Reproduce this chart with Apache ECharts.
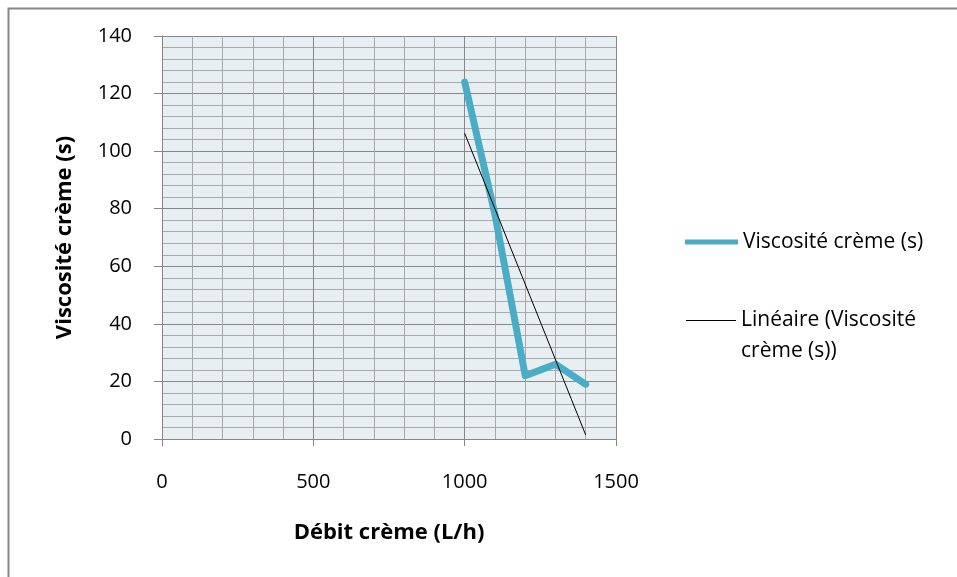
<!DOCTYPE html>
<html>
<head>
<meta charset="utf-8">
<script src="https://cdn.jsdelivr.net/npm/echarts@6/dist/echarts.min.js"></script>
<style>
html,body{margin:0;padding:0;background:#fff;}
#c{width:957px;height:577px;}
</style>
</head>
<body>
<div id="c"></div>
<script>
// Data
const flowRates = [1000, 1100, 1200, 1300, 1400];      // Débit crème (L/h)
const viscosity = [124, 78, 22, 26, 19];                // Viscosité crème (s)
const xTicks = [0, 500, 1000, 1500];
const yTicks = [0, 20, 40, 60, 80, 100, 120, 140];
const seriesName = 'Viscosité crème (s)';
const trendName = 'Linéaire (Viscosité crème (s))';
const xTitle = 'Débit crème (L/h)';
const yTitle = 'Viscosité crème (s)';

// Least-squares linear trend computed from the data
const n = flowRates.length;
const mx = flowRates.reduce((a, b) => a + b, 0) / n;
const my = viscosity.reduce((a, b) => a + b, 0) / n;
let sxy = 0, sxx = 0;
for (let i = 0; i < n; i++) { sxy += (flowRates[i] - mx) * (viscosity[i] - my); sxx += (flowRates[i] - mx) ** 2; }
const slope = sxy / sxx, icpt = my - slope * mx;
const xMin = Math.min(...flowRates), xMax = Math.max(...flowRates);
const trendData = [[xMin, slope * xMin + icpt], [xMax, slope * xMax + icpt]];

const FONT = '"Open Sans", sans-serif';
const chart = echarts.init(document.getElementById('c'), null, {renderer: 'canvas'});
chart.setOption({
  backgroundColor: '#ffffff',
  animation: false,
  textStyle: {fontFamily: FONT},
  graphic: [{
    type: 'rect', left: 6, top: 6, silent: true,
    shape: {x: 0, y: 0, width: 1200, height: 900},
    style: {fill: 'none', stroke: '#878787', lineWidth: 2}
  }],
  grid: {left: 162, top: 36, right: 341, bottom: 138, show: true, backgroundColor: '#e8eff2', borderWidth: 0},
  xAxis: {
    type: 'value', min: xTicks[0], max: xTicks[xTicks.length - 1], interval: 500,
    name: xTitle, nameLocation: 'middle', nameGap: 83,
    nameTextStyle: {fontFamily: FONT, fontWeight: 'bold', fontSize: 22, color: '#000'},
    axisLine: {show: true, onZero: false, lineStyle: {color: '#878787', width: 1}},
    axisTick: {show: true, length: 7, lineStyle: {color: '#878787'}},
    axisLabel: {margin: 33, fontSize: 20, color: '#000', fontFamily: FONT, formatter: v => String(v)},
    splitLine: {show: true, lineStyle: {color: '#878787', width: 1}},
    minorTick: {show: false, splitNumber: 5},
    minorSplitLine: {show: true, lineStyle: {color: '#a9a9a9', width: 1}}
  },
  yAxis: {
    type: 'value', min: yTicks[0], max: yTicks[yTicks.length - 1], interval: 20,
    name: yTitle, nameLocation: 'middle', nameGap: 86, nameRotate: 90,
    nameTextStyle: {fontFamily: FONT, fontWeight: 'bold', fontSize: 22, color: '#000'},
    axisLine: {show: true, lineStyle: {color: '#878787', width: 1}},
    axisTick: {show: true, length: 8, lineStyle: {color: '#878787'}},
    axisLabel: {margin: 30, fontSize: 20, color: '#000', fontFamily: FONT, formatter: v => String(v)},
    splitLine: {show: true, lineStyle: {color: '#878787', width: 1}},
    minorTick: {show: false, splitNumber: 5},
    minorSplitLine: {show: true, lineStyle: {color: '#a9a9a9', width: 1}}
  },
  legend: [{
    data: [seriesName], orient: 'vertical', left: 685, top: 229, padding: 0,
    icon: 'rect', itemWidth: 53, itemHeight: 5, itemGap: 0,
    itemStyle: {color: '#4bacc6'},
    textStyle: {fontFamily: FONT, fontSize: 21, color: '#000', lineHeight: 26}
  }, {
    data: [trendName], orient: 'vertical', left: 686, top: 274, padding: 0,
    icon: 'rect', itemWidth: 50, itemHeight: 1, itemGap: 0,
    itemStyle: {color: '#000'},
    formatter: name => ' \n' + name.replace('(Viscosité ', '(Viscosité\n'),
    textStyle: {fontFamily: FONT, fontSize: 21, color: '#000', lineHeight: 31}
  }],
  series: [{
    name: seriesName, type: 'line', data: flowRates.map((x, i) => [x, viscosity[i]]),
    showSymbol: false, symbol: 'none',
    lineStyle: {color: '#4bacc6', width: 7, cap: 'round', join: 'round'},
    itemStyle: {color: '#4bacc6'}, z: 3
  }, {
    name: trendName, type: 'line', data: trendData,
    showSymbol: false, symbol: 'none',
    lineStyle: {color: '#000', width: 1},
    itemStyle: {color: '#000'}, z: 4
  }]
});
</script>
</body>
</html>
